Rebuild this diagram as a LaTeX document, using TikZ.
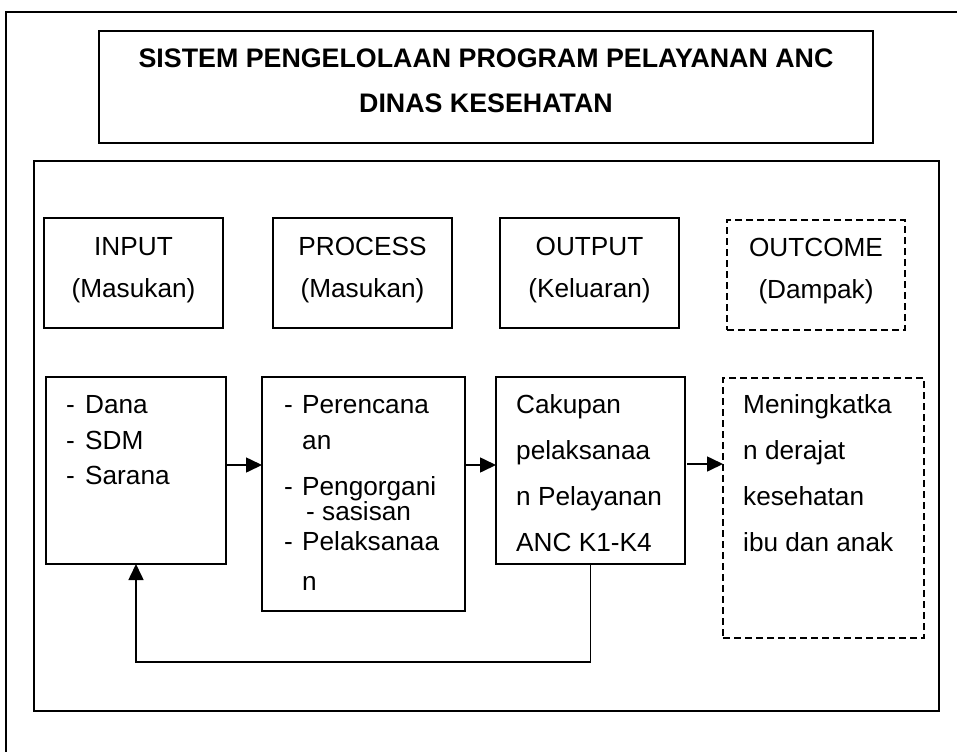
\documentclass[tikz,border=0pt]{standalone}
\usepackage{fontspec}
\setmainfont{Liberation Sans}
\usetikzlibrary{arrows.meta,calc}
\begin{document}
\begin{tikzpicture}[x=1pt,y=-1pt,
  thinbox/.style={draw, line width=1.4pt, rectangle, inner sep=0pt, outer sep=0pt, anchor=north west},
  thickbox/.style={draw, line width=2.2pt, rectangle, inner sep=0pt, outer sep=0pt, anchor=north west},
  dashbox/.style={thinbox, dash pattern=on 7pt off 4pt},
  txt/.style={anchor=base west, inner sep=0pt, font=\fontsize{26.2}{30}\selectfont},
  ctxt/.style={anchor=base, inner sep=0pt, font=\fontsize{26.2}{30}\selectfont},
  ttl/.style={anchor=base, inner sep=0pt, font=\fontsize{26.8}{30}\selectfont\bfseries},
  arr/.style={line width=1.6pt, -{Triangle[length=16pt,width=15pt]}}]
\useasboundingbox (0,0) rectangle (957,752);
\fill[white] (0,0) rectangle (957,752);
% outer frame (cut by the page)
\draw[line width=1.4pt] (957,12) -- (6,12) -- (6,752);
% title
\node[thickbox, minimum width=774pt, minimum height=112pt] (title) at (99,31) {};
\node[ttl] (t1) at (486,67) {SISTEM PENGELOLAAN PROGRAM PELAYANAN ANC};
\node[ttl] (t2) at (486,112) {DINAS KESEHATAN};
% inner frame
\node[thickbox, minimum width=905pt, minimum height=550pt] (frame) at (34,161) {};
% header boxes
\node[thinbox, minimum width=179pt, minimum height=110pt] (hin) at (44,218) {};
\node[thinbox, minimum width=179pt, minimum height=110pt] (hproc) at (273,218) {};
\node[thinbox, minimum width=179pt, minimum height=110pt] (hout) at (500,218) {};
\node[dashbox, minimum width=178pt, minimum height=110pt] (hoc) at (727,220) {};
\node[ctxt] (hin1) at (133.5,255) {INPUT};
\node[ctxt] (hin2) at (133.5,297) {(Masukan)};
\node[ctxt] (hproc1) at (362.5,255) {PROCESS};
\node[ctxt] (hproc2) at (362.5,297) {(Masukan)};
\node[ctxt] (hout1) at (589.5,255) {OUTPUT};
\node[ctxt] (hout2) at (589.5,297) {(Keluaran)};
\node[ctxt] (hoc1) at (816,256) {OUTCOME};
\node[ctxt] (hoc2) at (816,298) {(Dampak)};
% bottom boxes
\node[thinbox, minimum width=180pt, minimum height=187pt] (bin) at (46,377) {};
\node[thinbox, minimum width=203pt, minimum height=234pt] (bproc) at (262,377) {};
\node[thinbox, minimum width=189pt, minimum height=187pt] (bout) at (496,377) {};
\node[dashbox, minimum width=201pt, minimum height=260pt] (boc) at (723,378) {};
% input list
\node[txt] (d1) at (66,413) {\makebox[19pt][l]{-}Dana};
\node[txt] (d2) at (66,449) {\makebox[19pt][l]{-}SDM};
\node[txt] (d3) at (66,484) {\makebox[19pt][l]{-}Sarana};
% process list
\node[txt] (p1) at (284,413) {\makebox[18pt][l]{-}Perencana};
\node[txt] (p2) at (302,449) {an};
\node[txt] (p3) at (284,495) {\makebox[18pt][l]{-}Pengorgani};
\node[txt] (p4) at (306,520) {- sasisan};
\node[txt] (p5) at (284,550) {\makebox[18pt][l]{-}Pelaksanaa};
\node[txt] (p6) at (302,590) {n};
% output text
\node[txt] (o1) at (516,413) {Cakupan};
\node[txt] (o2) at (516,459) {pelaksanaa};
\node[txt] (o3) at (516,505) {n Pelayanan};
\node[txt] (o4) at (516,551) {ANC K1-K4};
% outcome text
\node[txt] (c1) at (743,413) {Meningkatka};
\node[txt] (c2) at (743,459) {n derajat};
\node[txt] (c3) at (743,505) {kesehatan};
\node[txt] (c4) at (743,551) {ibu dan anak};
% arrows
\path (bin.east) ++(0,-5.5) coordinate (a1);
\draw[arr] (a1) -- (a1 -| bproc.west);
\path (bproc.east) ++(0,-29) coordinate (a2);
\draw[arr] (a2) -- (a2 -| bout.west);
\path (bout.east) ++(2,-6.5) coordinate (a3);
\draw[arr] (a3) -- (a3 -| boc.west);
\draw[arr] (bout.south) -- ++(0,98) -| (bin.south);
\end{tikzpicture}
\end{document}
